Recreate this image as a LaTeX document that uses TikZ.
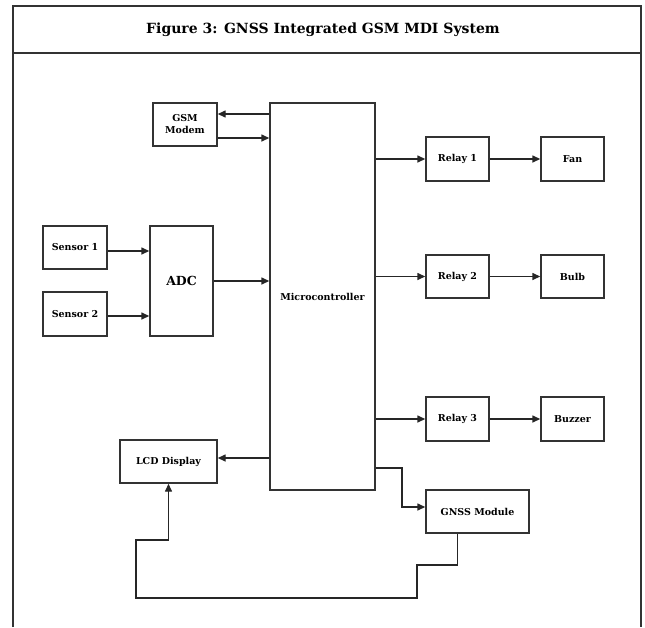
\documentclass[tikz,border=0pt]{standalone}
\usepackage{fontspec}
\setmainfont{DejaVu Serif}
\usetikzlibrary{arrows.meta}

\begin{document}
\begin{tikzpicture}[x=1pt,y=-1pt,line width=1.4pt,
    block/.style={draw=black!80,fill=white,line width=1.4pt,inner sep=1pt,
      align=center,font=\fontsize{9.5}{12}\selectfont\bfseries},
    link/.style={draw=black!85,-{Triangle[length=8pt,width=7pt]}}]
  \useasboundingbox (0,0) rectangle (645,627);
  % frame and title
  \draw[black!80,line width=1.8pt] (13,627) -- (13,6) -- (641,6) -- (641,627);
  \draw[black!80,line width=1.8pt] (13,53) -- (641,53);
  \node (title) at (323,30) {\fontsize{14}{16}\selectfont\bfseries Figure 3: GNSS Integrated GSM MDI System};
  % blocks
  \node[block,minimum width=105pt,minimum height=387pt] (mcu) at (322.5,296.5) {Microcontroller};
  \node[block,minimum width=64pt,minimum height=43pt] (gsm) at (185,124.5) {GSM\\Modem};
  \node[block,minimum width=64pt,minimum height=43pt] (sen1) at (75,247.5) {Sensor 1};
  \node[block,minimum width=64pt,minimum height=44pt] (sen2) at (75,314) {Sensor 2};
  \node[block,minimum width=63pt,minimum height=110pt,font=\fontsize{12.5}{14}\selectfont\bfseries] (adc) at (181.5,281) {ADC};
  \node[block,minimum width=63pt,minimum height=44pt] (rel1) at (457.5,159) {Relay 1};
  \node[block,minimum width=63pt,minimum height=43pt] (rel2) at (457.5,276.5) {Relay 2};
  \node[block,minimum width=63pt,minimum height=44pt] (rel3) at (457.5,419) {Relay 3};
  \node[block,minimum width=63pt,minimum height=44pt] (fan) at (572.5,159) {Fan};
  \node[block,minimum width=63pt,minimum height=43pt] (bulb) at (572.5,276.5) {Bulb};
  \node[block,minimum width=63pt,minimum height=44pt] (buzz) at (572.5,419) {Buzzer};
  \node[block,minimum width=97pt,minimum height=43pt] (lcd) at (168.5,461.5) {LCD Display};
  \node[block,minimum width=103pt,minimum height=43pt] (gnss) at (477.5,511.5) {GNSS Module};
  % connections
  \draw[link] (mcu.west |- 0,114) -- (gsm.east |- 0,114);
  \draw[link] (gsm.east |- 0,138) -- (mcu.west |- 0,138);
  \draw[link] (sen1.east |- 0,251) -- (adc.west |- 0,251);
  \draw[link] (sen2.east |- 0,316) -- (adc.west |- 0,316);
  \draw[link] (adc.east) -- (adc.east -| mcu.west);
  \foreach \r/\o in {rel1/fan,rel2/bulb,rel3/buzz}{
    \draw[link] (mcu.east |- \r.west) -- (\r.west);
    \draw[link] (\r.east) -- (\o.west);
  }
  \draw[link] (mcu.west |- 0,458) -- (lcd.east |- 0,458);
  \draw[link] (mcu.east |- 0,468) -- (402,468) |- (gnss.west |- 0,507);
  \draw[link] ([xshift=-20pt]gnss.south) |- (417,565) |- (136,598) |- (lcd.south |- 0,540) -- (lcd.south);
\end{tikzpicture}
\end{document}
